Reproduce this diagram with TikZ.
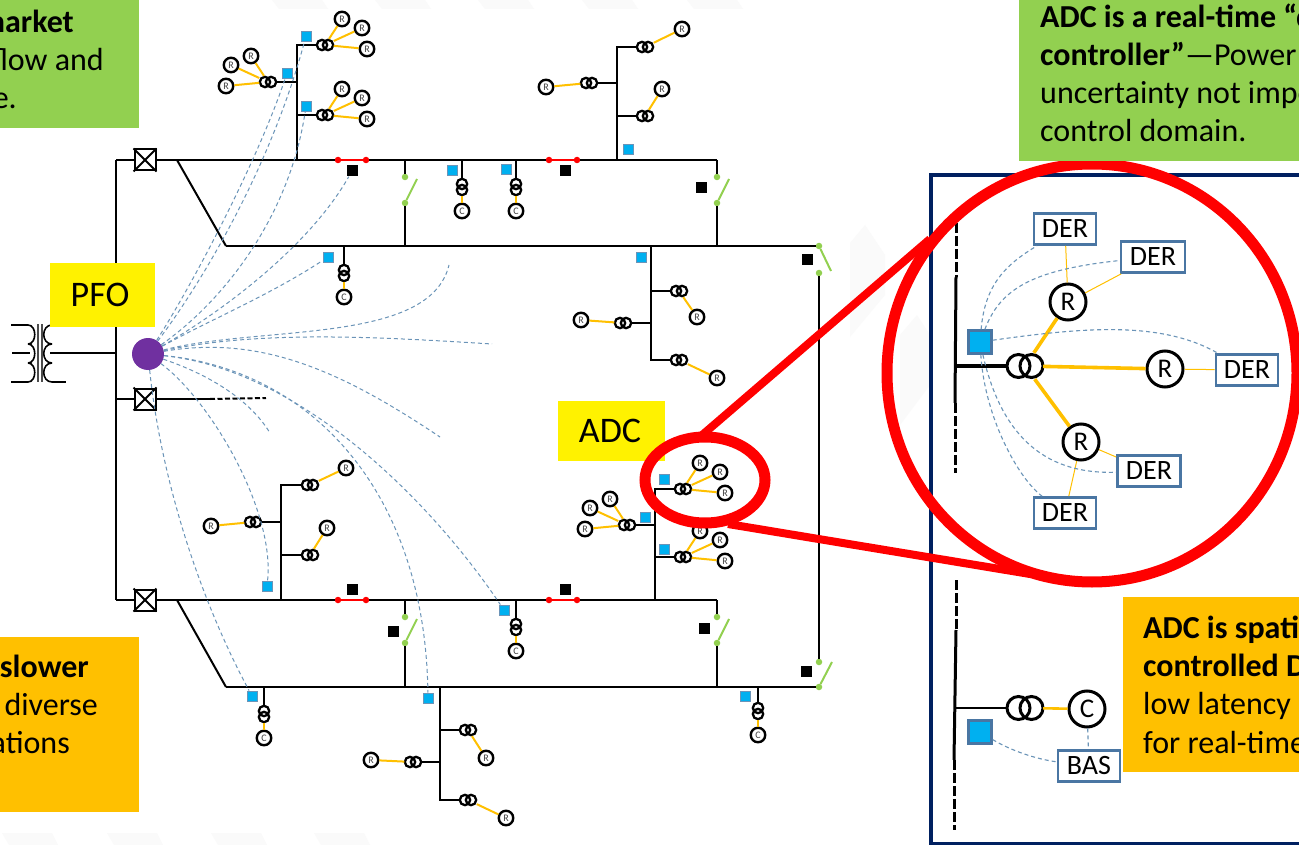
\documentclass[tikz,border=0pt]{standalone}
\usepackage{fontspec}
\setmainfont{Carlito}
\usetikzlibrary{shapes.geometric}
\definecolor{leafgreen}{HTML}{92D050}
\definecolor{amber}{HTML}{FFC000}
\definecolor{skyblue}{HTML}{00B0F0}
\definecolor{steelblue}{HTML}{4A76A3}
\definecolor{linkblue}{HTML}{6B94B8}
\definecolor{navy}{HTML}{002060}
\definecolor{pfopurple}{HTML}{7030A0}
\definecolor{faintgray}{HTML}{FAFAFA}
\newcommand{\coilh}[2]{\node[coilbox] (#1) at #2 {};
  \draw[coil] (#1.center)++(-3,0) circle (5.2pt) (#1.center)++(3,0) circle (5.2pt);}
\newcommand{\coilv}[2]{\node[coilboxv] (#1) at #2 {};
  \draw[coil] (#1.center)++(0,-3) circle (5.2pt) (#1.center)++(0,3) circle (5.2pt);}
\newcommand{\coilbig}[2]{\node[coilboxbig] (#1) at #2 {};
  \draw[coil,line width=3pt] (#1.center)++(-6.5,0) circle (11.5pt) (#1.center)++(6.5,0) circle (11.5pt);}
\newcommand{\rcluster}[5]{\coordinate (j#1) at (#4,#3);
  \coilh{x#1}{(#2,#3)}
  \node[rnode] (r#1a) at (#2+#5*17,#3-26) {R};
  \node[rnode] (r#1b) at (#2+#5*37,#3-17) {R};
  \node[rnode] (r#1c) at (#2+#5*42,#3+4) {R};
  \draw[bus] (j#1) -- (x#1);
  \draw[feed] (x#1) -- (r#1a); \draw[feed] (x#1) -- (r#1b); \draw[feed] (x#1) -- (r#1c);}
\begin{document}
\begin{tikzpicture}[x=1pt,y=-1pt,
  bus/.style={line width=2pt,black},
  feed/.style={line width=2pt,amber},
  link/.style={line width=1pt,linkblue,dash pattern=on 4pt off 3pt},
  coil/.style={line width=2.3pt,black},
  coilbox/.style={minimum width=17pt,minimum height=12pt,inner sep=0pt},
  coilboxv/.style={minimum width=12pt,minimum height=17pt,inner sep=0pt},
  coilboxbig/.style={minimum width=36pt,minimum height=26pt,inner sep=0pt},
  rnode/.style={circle,draw,line width=2.4pt,fill=white,minimum size=14.5pt,inner sep=0pt,font=\fontsize{10}{10}\selectfont,text=black!75},
  bignode/.style={circle,draw,line width=3pt,fill=white,minimum size=36pt,inner sep=0pt,font=\fontsize{27}{27}\selectfont},
  der/.style={draw=steelblue,line width=2.8pt,fill=white,minimum width=62pt,minimum height=31pt,inner sep=0pt,font=\fontsize{28}{28}\selectfont},
  blue/.style={fill=skyblue,draw=linkblue,line width=0.4pt,minimum size=10.5pt,inner sep=0pt},
  bigblue/.style={fill=skyblue,draw=steelblue,line width=2.4pt,minimum size=23pt,inner sep=0pt},
  ctrl/.style={fill=black,minimum size=11pt,inner sep=0pt},
  brk/.style={draw,line width=2pt,fill=white,minimum size=21pt,inner sep=0pt},
  swdot/.style={circle,fill=leafgreen,minimum size=6.5pt,inner sep=0pt},
  reddot/.style={circle,fill=red,minimum size=6.5pt,inner sep=0pt},
  blade/.style={line width=2pt,leafgreen},
  say/.style={font=\fontsize{32}{38}\selectfont,inner sep=0pt},
  tag/.style={fill=yellow,inner sep=0pt,font=\fontsize{36}{36}\selectfont},
  ring/.style={ellipse,draw=red,inner sep=0pt}]
\useasboundingbox (0,0) rectangle (1299,845);
\clip (0,0) rectangle (1299,845);
\fill[white] (0,0) rectangle (1299,845);
\foreach \wx in {272,375,478,582,687} \fill[faintgray] (\wx,0) -- (\wx+50,0) -- (\wx+56,9) -- (\wx+7,9) -- cycle;
\foreach \wx in {2,107,211,314} \fill[faintgray] (\wx,833) -- (\wx+50,833) -- (\wx+56,845) -- (\wx+7,845) -- cycle;
\fill[faintgray] (850,243) -- (865,225) -- (885,255) -- (885,295) -- (850,337) -- cycle;
\fill[faintgray] (900,335) -- (917,315) -- (930,335) -- (930,385) -- (900,425) -- cycle;
\foreach \ya in {325,344,363} {
  \draw[line width=1.6pt] (28,\ya) .. controls (37,\ya) and (37,\ya+19) .. (28,\ya+19);
  \draw[line width=1.6pt] (52,\ya) .. controls (41,\ya) and (41,\ya+19) .. (52,\ya+19);
}
\draw[line width=1.2pt,black!70] (38,324) -- (38,382) (42,324) -- (42,382);
\draw[line width=1.6pt] (11,325) -- (28,325) (12,353) -- (30,353) (11,382) -- (28,382) (52,382) -- (66,382);
\coordinate (tap) at (50,353);
\coordinate (ta) at (116,160);
\coordinate (tm) at (116,399);
\coordinate (tb) at (116,600);
\coordinate (tt) at (116,353);
\draw[bus] (tap) -- (tt);
\node[brk] (bka) at (145,160) {};
\node[brk] (bkb) at (145,399) {};
\node[brk] (bkc) at (145,600) {};
\foreach \n in {bka,bkb,bkc} \draw[bus] (\n.north west) -- (\n.south east) (\n.north east) -- (\n.south west);
\draw[bus] (ta) -- (tb);
\draw[bus] (ta) -- (bka);
\draw[bus] (tm) -- (bkb);
\draw[bus] (tb) -- (bkc);
\coordinate (stub) at (210,399);
\coordinate (stube) at (266,398);
\draw[bus] (bkb) -- (stub);
\draw[bus,dash pattern=on 5pt off 2.5pt] (stub) -- (stube);
\foreach \n/\x/\y in {a/338/160,b/549/160,c/338/600,d/549/600} {
  \node[reddot] (rd\n) at (\x,\y) {};
  \node[reddot] (re\n) at (\x+28,\y) {};
  \draw[line width=2pt,red] (rd\n) -- (re\n);
}
\foreach \n/\x/\y in {a/405/160,b/717/160,c/405/600,d/717/600} {
  \coordinate (su\n) at (\x,\y);
  \coordinate (sd\n) at (\x,\y+86);
  \coordinate (sl\n) at (\x+12,\y+19);
  \node[swdot] (st\n) at (\x,\y+17) {};
  \node[swdot] (sb\n) at (\x,\y+43) {};
  \draw[bus] (su\n) -- (st\n);
  \draw[bus] (sb\n) -- (sd\n);
  \draw[blade] (sb\n) -- (sl\n);
}
\coordinate (dga) at (177,160);
\coordinate (dgb) at (226,246);
\coordinate (dgc) at (177,600);
\coordinate (dgd) at (226,687);
\node[swdot] (swe) at (819,246) {};
\node[swdot] (swf) at (819,273) {};
\node[swdot] (swg) at (819,662) {};
\node[swdot] (swh) at (819,687) {};
\coordinate (ble) at (831,271);
\coordinate (blf) at (832,662);
\draw[blade] (swe) -- (ble);
\draw[blade] (swh) -- (blf);
\draw[bus] (bka) -- (rda);
\draw[bus] (rea) -- (rdb);
\draw[bus] (reb) -- (sub);
\draw[bus] (bkc) -- (rdc);
\draw[bus] (rec) -- (rdd);
\draw[bus] (red) -- (sud);
\draw[bus] (dga) -- (dgb);
\draw[bus] (dgc) -- (dgd);
\draw[bus] (dgb) -- (swe);
\draw[bus] (dgd) -- (swh);
\draw[bus] (swf) -- (swg);
\foreach \n/\x/\ya/\yb in {a/297/160/45,b/617/160/47,c/651/246/360,d/281/600/485,e/655/600/489,f/440/687/800} {
  \coordinate (ts\n) at (\x,\ya);
  \coordinate (te\n) at (\x,\yb);
  \draw[bus,line cap=rect] (ts\n) -- (te\n);
}
\rcluster{k}{325}{45}{297}{1}
\rcluster{l}{325}{115}{297}{1}
\rcluster{m}{268}{82}{297}{-1}
\rcluster{n}{683}{489}{655}{1}
\rcluster{o}{683}{557}{655}{1}
\rcluster{p}{627}{525}{655}{-1}
\foreach \n/\tx/\y/\x/\rx/\ry in {a/617/47/645/682/29,b/617/83/589/546/87,c/617/116/645/662/89,d/651/291/679/697/317,e/651/323/623/581/320,f/651/360/679/717/378,g/281/485/310/346/468,h/281/522/253/211/526,i/281/555/310/327/528,j/440/730/468/486/758,q/440/762/413/371/760,s/440/800/468/506/818} {
  \coordinate (j\n) at (\tx,\y);
  \coilh{x\n}{(\x,\y)}
  \node[rnode] (r\n) at (\rx,\ry) {R};
  \draw[bus] (j\n) -- (x\n);
  \draw[feed] (x\n) -- (r\n);
}
\foreach \n/\x/\y/\yc in {a/344/246/273,b/462/160/187,c/516/160/187,d/516/600/627,e/264/687/714,f/758/687/711} {
  \coordinate (jc\n) at (\x,\y);
  \coilv{xc\n}{(\x,\yc)}
  \node[rnode] (c\n) at (\x,\yc+24) {C};
  \draw[bus] (jc\n) -- (xc\n);
  \draw[feed] (xc\n) -- (c\n);
}
\foreach \n/\x/\y in {a/306/36,b/287/73,c/306/106,d/328/257,e/452/170,f/506/169,g/628/149,h/641/257,i/664/479,j/645/517,k/664/549,l/267/586,m/504/610,o/252/696,q/428/698,s/745/696} \node[blue] (b\n) at (\x,\y) {};
\foreach \n/\x/\y in {a/352/171,b/565/171,c/701/188,d/807/260,e/352/589,f/565/589,g/393/631,h/704/628,i/806/671} \node[ctrl] (k\n) at (\x,\y) {};
\node[circle,fill=pfopurple,minimum size=32pt,inner sep=0pt] (pfo) at (148,354) {};
\coordinate (ef) at (449,265);
\coordinate (eg) at (492,344);
\coordinate (eh) at (440,437);
\coordinate (ek) at (270,433);
\draw[link] (pfo) .. controls (195,280) and (258,160) .. (bb);
\draw[link] (pfo) .. controls (200,285) and (270,170) .. (ba);
\draw[link] (pfo) .. controls (225,300) and (290,215) .. (bc);
\draw[link] (pfo) .. controls (225,310) and (310,245) .. (ka);
\draw[link] (pfo) .. controls (210,320) and (270,295) .. (bd);
\draw[link] (pfo) .. controls (260,325) and (430,345) .. (ef);
\draw[link] (pfo) .. controls (260,330) and (380,337) .. (eg);
\draw[link] (pfo) .. controls (260,335) and (340,370) .. (eh);
\draw[link] (pfo) .. controls (300,370) and (430,500) .. (bm);
\draw[link] (pfo) .. controls (310,370) and (425,490) .. (bq);
\draw[link] (pfo) .. controls (210,375) and (250,400) .. (ek);
\draw[link] (pfo) .. controls (210,400) and (275,510) .. (bl);
\draw[link] (pfo) .. controls (160,470) and (195,590) .. (bo);
\node[tag,minimum width=105pt,minimum height=64pt] (pfotag) at (102.5,295) {PFO\rule{5pt}{0pt}};
\node[tag,minimum width=107pt,minimum height=60pt] (adctag) at (611.5,431) {ADC\rule{3pt}{0pt}};
\draw[navy,line width=4.5pt] (931,175) rectangle (1320,844);
\coordinate (ia) at (956,223);
\coordinate (ib) at (956,277);
\coordinate (ic) at (955,403);
\coordinate (id) at (955,473);
\coordinate (ie) at (956,366);
\draw[line width=3pt,dash pattern=on 10pt off 3pt] (ia) -- (ib);
\draw[line width=3pt] (ib) -- (ic);
\draw[line width=3pt,dash pattern=on 10pt off 3pt] (ic) -- (id);
\coilbig{ix}{(1025,366)}
\node[bignode] (ira) at (1068,302) {R};
\node[bignode] (irb) at (1165,369) {R};
\node[bignode] (irc) at (1081,442) {R};
\node[der] (dera) at (1065,229) {DER};
\node[der,minimum width=64pt] (derb) at (1153,257) {DER};
\node[der] (derc) at (1247,370) {DER};
\node[der,minimum width=63pt] (derd) at (1149,471) {DER};
\node[der] (dere) at (1065,513) {DER};
\node[bigblue] (ibb) at (980,342) {};
\draw[line width=3.5pt] (ie) -- (ix);
\draw[amber,line width=3.6pt] (ix) -- (ira);
\draw[amber,line width=3.6pt] (ix) -- (irb);
\draw[amber,line width=3.6pt] (ix) -- (irc);
\draw[amber,line width=1pt] (ira) -- (dera);
\draw[amber,line width=1pt] (ira) -- (derb);
\draw[amber,line width=1pt] (irb) -- (derc);
\draw[amber,line width=1pt] (irc) -- (derd);
\draw[amber,line width=1pt] (irc) -- (dere);
\draw[link,line width=1.1pt] (ibb) .. controls (985,285) and (1005,265) .. (dera);
\draw[link,line width=1.1pt] (ibb) .. controls (1000,290) and (1030,270) .. (derb);
\draw[link,line width=1.1pt] (ibb) .. controls (1080,328) and (1160,320) .. (derc);
\draw[link,line width=1.1pt] (ibb) .. controls (1000,430) and (1040,475) .. (derd);
\draw[link,line width=1.1pt] (ibb) .. controls (985,420) and (1020,480) .. (dere);
\coordinate (iga) at (956,580);
\coordinate (igb) at (956,630);
\coordinate (igc) at (954,760);
\coordinate (igd) at (954,830);
\coordinate (ige) at (956,708);
\draw[line width=3pt,dash pattern=on 10pt off 3pt] (iga) -- (igb);
\draw[line width=3pt] (igb) -- (igc);
\draw[line width=3pt,dash pattern=on 10pt off 3pt] (igc) -- (igd);
\coilbig{igx}{(1025,708)}
\node[bignode] (igr) at (1087,709) {C};
\node[der] (bas) at (1089,766) {BAS};
\node[bigblue] (igb2) at (980,732) {};
\draw[line width=2.4pt] (ige) -- (igx);
\draw[amber,line width=2.6pt] (igx) -- (igr);
\draw[link,line width=1.1pt] (igb2) .. controls (1010,750) and (1035,759) .. (bas);
\draw[link,line width=1.1pt] (igr) -- (bas);
\node[ring,line width=11pt,minimum width=120pt,minimum height=86pt] (zoomsm) at (705,480) {};
\node[ring,line width=11pt,minimum width=410pt,minimum height=418pt] (zoombg) at (1092,373) {};
\coordinate (za) at (701,436);
\coordinate (zb) at (930,239);
\coordinate (zc) at (728,524);
\coordinate (zd) at (1030,574);
\draw[red,line width=8pt] (za) -- (zb);
\draw[red,line width=8pt] (zc) -- (zd);
\fill[leafgreen] (0,0) rectangle (139,128);
\fill[leafgreen] (1019,0) rectangle (1299,161);
\fill[amber] (0,637) rectangle (139,812);
\fill[amber] (1123,597) rectangle (1299,772);
\node[say,anchor=base east] (tla) at (74,33) {\textbf{market}};
\node[say,anchor=base east] (tlb) at (104,71) {flow and};
\node[say,anchor=base east] (tlc) at (17,109) {e.};
\node[say,anchor=base west] (tra) at (1040,27.5) {\textbf{ADC is a real-time “d}};
\node[say,anchor=base west] (trb) at (1040,65.5) {\textbf{controller”}—Power};
\node[say,anchor=base west] (trc) at (1040,103.5) {uncertainty not impo};
\node[say,anchor=base west] (trd) at (1040,141.5) {control domain.};
\node[say,anchor=base east] (bla) at (89,677) {\textbf{slower}};
\node[say,anchor=base east] (blb) at (98,715) {diverse};
\node[say,anchor=base east] (blc) at (70,753) {ations};
\node[say,anchor=base west] (bra) at (1143,638) {\textbf{ADC is spati}};
\node[say,anchor=base west] (brb) at (1143,676) {\textbf{controlled D}};
\node[say,anchor=base west] (brc) at (1143,714) {low latency c};
\node[say,anchor=base west] (brd) at (1143,753) {for real-time};
\end{tikzpicture}
\end{document}
